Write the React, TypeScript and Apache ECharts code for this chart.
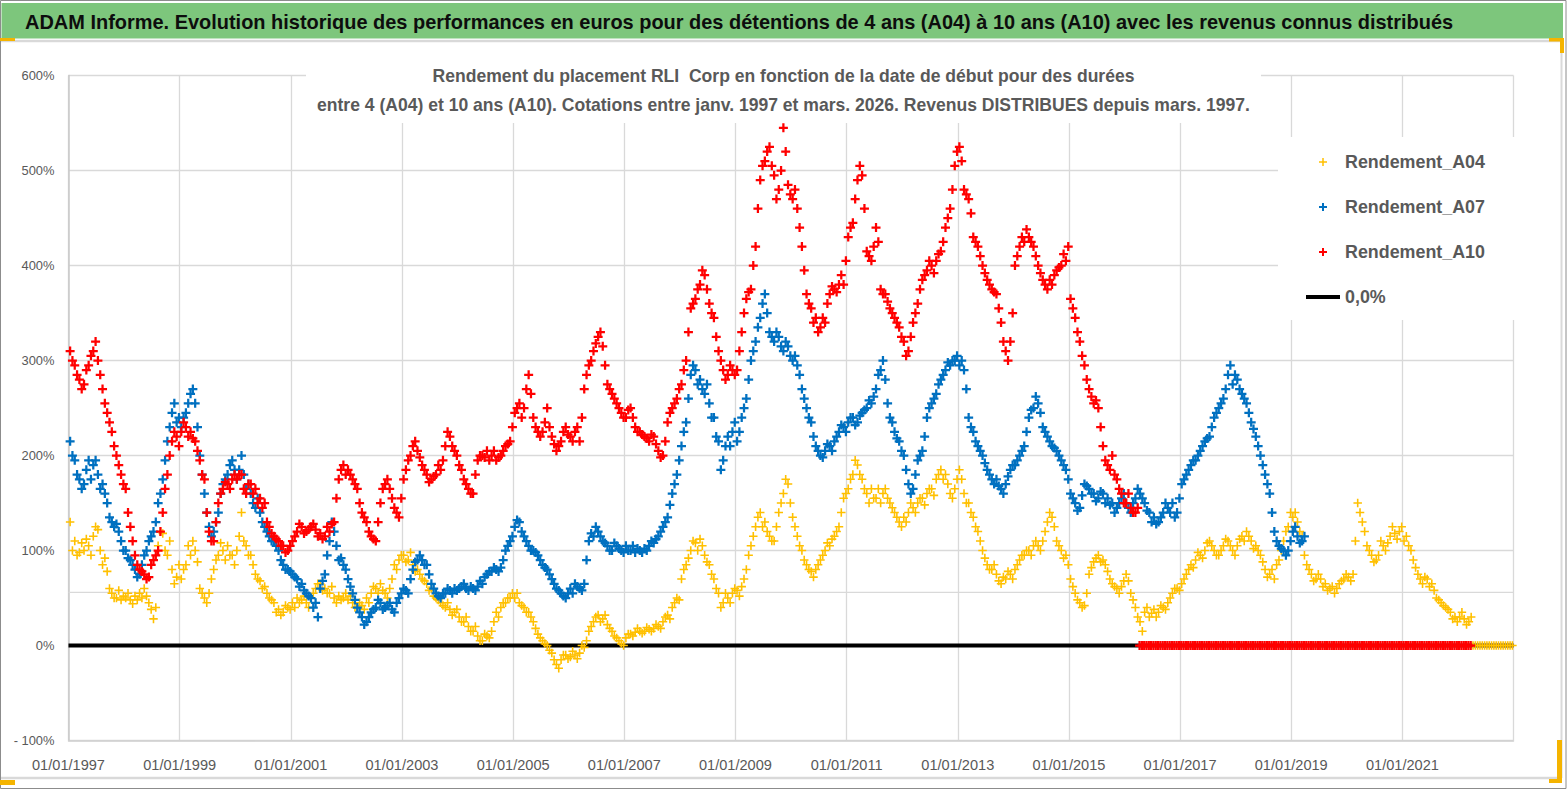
import React, { useEffect, useRef } from "react";
import * as echarts from "echarts";

// ---------- data (monthly readings, first value = Jan 1997) ----------
// *_MID : reading near the middle of each month
// *_EDGE: second reading near the end of each month (other side of the cloud)
const START_YEAR = 1997;
const X_TICK_YEARS = [1997, 1999, 2001, 2003, 2005, 2007, 2009, 2011, 2013, 2015, 2017, 2019, 2021];
const Y_TICKS = [-100, 0, 100, 200, 300, 400, 500, 600];

const A04_MID = [
  130, 110, 98, 100, 105, 115, 122, 85, 78, 55, 50, 48,
  50, 48, 52, 55, 60, 45, 28, 105, 118, 95, 80, 72,
  70, 85, 95, 100, 60, 50, 55, 80, 95, 100, 105, 95,
  100, 140, 105, 95, 75, 68, 62, 50, 45, 38, 35, 40,
  45, 50, 48, 45, 50, 60, 65, 60, 55, 50, 52, 50,
  48, 45, 40, 42, 50, 55, 60, 65, 55, 60, 85, 90,
  95, 90, 85, 80, 70, 65, 60, 50, 45, 40, 38, 35,
  30, 25, 20, 15, 10, 5, 10, 15, 35, 40, 45, 50,
  50, 45, 40, 35, 25, 12, 5, 0, -8, -20, -15, -10,
  -12, -10, -8, -2, 15, 25, 32, 28, 22, 15, 8, 2,
  8, 12, 14, 15, 15, 17, 18, 20, 25, 32, 40, 50,
  70, 85, 100, 108, 112, 95, 85, 70, 55, 45, 50, 55,
  58, 62, 80, 105, 125, 140, 130, 115, 110, 140, 160, 170,
  135, 115, 100, 85, 78, 80, 90, 100, 105, 115, 125, 155,
  165, 180, 190, 175, 160, 165, 155, 150, 165, 150, 140, 130,
  135, 140, 145, 150, 155, 160, 165, 175, 185, 180, 160, 165,
  185, 160, 150, 135, 120, 100, 85, 80, 75, 65, 70, 75,
  80, 90, 95, 100, 105, 105, 110, 130, 135, 110, 100, 95,
  70, 55, 45, 42, 75, 88, 95, 90, 78, 65, 60, 62,
  75, 55, 40, 25, 35, 30, 38, 35, 40, 45, 55, 60,
  65, 75, 85, 90, 95, 100, 110, 100, 95, 105, 110, 100,
  105, 115, 120, 110, 105, 95, 80, 75, 70, 90, 110, 125,
  135, 130, 115, 85, 75, 70, 70, 65, 60, 55, 65, 70,
  72, 75, 150, 130, 105, 95, 90, 110, 100, 115, 118, 120,
  110, 105, 90, 75, 65, 70, 65, 50, 45, 40, 35, 30,
  30, 28, 25,
];
const A04_EDGE = [
  100, 95, 108, 112, 95, 125, 100, 92, 60, 50, 58, 52,
  55, 44, 48, 50, 52, 38, 40, 120, 100, 110, 65, 85,
  80, 105, 110, 88, 55, 45, 70, 90, 108, 90, 95, 85,
  115, 110, 95, 85, 70, 60, 55, 48, 35, 32, 42, 38,
  40, 45, 52, 40, 55, 65, 58, 55, 62, 45, 48, 55,
  52, 40, 45, 38, 45, 62, 55, 58, 50, 70, 80, 95,
  88, 98, 78, 75, 68, 58, 52, 48, 42, 45, 32, 38,
  25, 30, 15, 20, 5, 12, 8, 25, 30, 45, 50, 55,
  55, 42, 35, 30, 18, 8, 2, -5, -15, -24, -10, -14,
  -6, -14, 0, 5, 20, 30, 25, 32, 18, 10, 5, 0,
  12, 10, 18, 13, 19, 15, 22, 18, 30, 28, 45, 48,
  80, 92, 110, 100, 105, 88, 75, 60, 40, 55, 45, 60,
  52, 70, 95, 115, 135, 125, 120, 110, 125, 150, 175, 150,
  125, 105, 90, 80, 72, 85, 95, 108, 112, 120, 140, 160,
  175, 195, 180, 165, 150, 155, 165, 160, 155, 145, 135, 125,
  130, 150, 140, 155, 148, 165, 158, 180, 175, 170, 155, 175,
  175, 150, 140, 125, 110, 92, 80, 85, 68, 72, 78, 70,
  85, 95, 100, 95, 110, 100, 120, 140, 125, 105, 92, 85,
  62, 48, 40, 55, 82, 92, 88, 85, 70, 62, 55, 68,
  68, 48, 30, 15, 40, 34, 30, 42, 38, 50, 60, 58,
  70, 80, 82, 98, 92, 108, 105, 95, 100, 112, 105, 95,
  112, 110, 115, 102, 100, 88, 72, 80, 85, 100, 120, 140,
  140, 120, 95, 80, 68, 75, 62, 58, 62, 60, 68, 75,
  68, 110, 140, 120, 100, 88, 95, 105, 108, 125, 112, 125,
  115, 100, 82, 70, 72, 62, 58, 48, 42, 38, 28, 25,
  35, 22, 30,
];
// Apr 2022 -> Dec 2022 : A04 shown at 0 %
const A04_TAIL = [0, 0, 0, 0, 0, 0, 0, 0, 0];

const A07_MID = [
  215, 195, 175, 170, 195, 190, 180, 170, 150, 130, 128, 110,
  100, 90, 80, 75, 95, 110, 120, 150, 175, 215, 245, 235,
  230, 245, 265, 255, 200, 160, 125, 120, 140, 170, 180, 195,
  175, 200, 165, 160, 145, 140, 125, 115, 110, 100, 85, 80,
  75, 70, 65, 55, 50, 45, 60, 75, 110, 120, 90, 85,
  70, 55, 40, 30, 25, 35, 40, 45, 40, 45, 35, 50,
  60, 55, 80, 90, 90, 85, 65, 55, 50, 55, 58, 60,
  60, 65, 58, 60, 62, 65, 75, 78, 80, 82, 100, 110,
  125, 130, 115, 105, 100, 95, 85, 80, 70, 60, 55, 50,
  60, 65, 60, 65, 110, 115, 120, 110, 105, 100, 105, 100,
  105, 100, 98, 100, 102, 105, 108, 115, 125, 135, 160, 180,
  210, 235, 285, 290, 280, 265, 255, 240, 215, 195, 220, 225,
  215, 240, 260, 300, 320, 345, 370, 330, 320, 325, 310, 315,
  300, 295, 270, 250, 235, 210, 200, 205, 210, 215, 225, 230,
  235, 240, 235, 245, 250, 255, 270, 290, 280, 240, 225, 215,
  200, 170, 165, 195, 205, 240, 255, 265, 280, 290, 295, 300,
  295, 290, 240, 225, 210, 200, 185, 175, 175, 165, 170, 185,
  190, 200, 210, 240, 250, 255, 230, 220, 210, 205, 195, 185,
  160, 150, 145, 170, 165, 160, 155, 160, 155, 150, 145, 155,
  150, 140, 155, 160, 150, 140, 135, 130, 140, 145, 150, 140,
  170, 180, 190, 195, 205, 215, 220, 240, 250, 260, 285, 275,
  280, 265, 255, 235, 220, 200, 180, 160, 120, 105, 100, 100,
  120, 115, 110,
];
const A07_EDGE = [
  200, 180, 165, 185, 175, 195, 165, 160, 135, 125, 120, 100,
  92, 85, 72, 85, 100, 115, 130, 160, 195, 230, 255, 240,
  240, 255, 270, 230, 180, 140, 115, 130, 160, 175, 190, 185,
  185, 180, 170, 150, 155, 130, 120, 110, 105, 90, 80, 78,
  72, 62, 58, 52, 40, 30, 68, 95, 130, 105, 92, 80,
  62, 48, 35, 22, 30, 38, 48, 38, 42, 38, 45, 55,
  58, 70, 88, 95, 85, 75, 60, 52, 55, 60, 55, 58,
  62, 60, 62, 58, 68, 72, 78, 82, 78, 90, 105, 115,
  132, 120, 110, 100, 98, 90, 82, 75, 65, 58, 52, 55,
  55, 62, 58, 90, 118, 125, 115, 108, 100, 108, 102, 98,
  100, 105, 102, 98, 100, 110, 112, 120, 130, 148, 170, 195,
  225, 260, 295, 275, 270, 275, 240, 220, 185, 210, 210, 235,
  225, 250, 280, 310, 335, 360, 350, 325, 330, 315, 320, 305,
  305, 285, 260, 240, 220, 205, 198, 212, 205, 220, 232, 225,
  240, 232, 242, 248, 258, 262, 285, 300, 255, 235, 218, 205,
  185, 160, 180, 200, 220, 250, 260, 275, 285, 298, 300, 305,
  300, 270, 230, 215, 205, 192, 180, 170, 168, 160, 178, 190,
  195, 205, 225, 248, 262, 245, 225, 215, 208, 200, 190, 175,
  155, 142, 158, 168, 160, 152, 162, 150, 148, 140, 150, 160,
  145, 150, 165, 155, 142, 130, 128, 135, 150, 140, 135, 155,
  175, 185, 195, 200, 210, 218, 230, 245, 255, 270, 295, 285,
  270, 260, 245, 228, 210, 190, 170, 140, 110, 102, 95, 110,
  125, 108, 115,
];

const A10_MID = [
  310, 295, 280, 275, 295, 310, 300, 270, 245, 225, 200, 180,
  165, 125, 95, 80, 75, 72, 90, 100, 140, 180, 215, 220,
  225, 230, 225, 215, 195, 175, 120, 110, 150, 165, 170, 175,
  175, 180, 160, 170, 165, 155, 150, 125, 115, 110, 105, 100,
  110, 120, 125, 120, 125, 122, 118, 115, 120, 130, 175, 190,
  185, 175, 165, 140, 130, 115, 110, 150, 170, 165, 145, 135,
  175, 195, 210, 205, 190, 180, 175, 180, 185, 210, 220, 205,
  190, 175, 165, 160, 195, 200, 205, 200, 195, 200, 210, 215,
  245, 255, 250, 285, 240, 225, 225, 250, 220, 205, 215, 230,
  220, 225, 215, 270, 295, 310, 325, 315, 275, 265, 255, 245,
  240, 250, 230, 225, 220, 215, 220, 205, 200, 235, 250, 260,
  275, 300, 355, 365, 380, 390, 360, 345, 310, 290, 285, 290,
  290, 330, 365, 375, 420, 490, 510, 525, 495, 480, 545, 485,
  470, 460, 420, 370, 355, 345, 335, 340, 370, 375, 380, 380,
  430, 445, 490, 495, 415, 405, 440, 375, 370, 355, 345, 335,
  320, 310, 340, 360, 385, 395, 400, 405, 415, 440, 460, 505,
  525, 480, 470, 430, 420, 400, 385, 375, 370, 340, 310, 320,
  400, 420, 425, 430, 420, 400, 385, 375, 380, 395, 400, 405,
  365, 345, 320, 295, 270, 255, 250, 210, 190, 200, 175, 160,
  150, 145, 140,
];
const A10_EDGE = [
  300, 285, 270, 290, 305, 320, 285, 255, 235, 210, 190, 170,
  140, 110, 85, 78, 70, 85, 95, 120, 165, 200, 225, 210,
  235, 220, 218, 205, 180, 140, 110, 130, 160, 172, 165, 180,
  180, 165, 170, 160, 150, 145, 130, 118, 112, 105, 98, 105,
  115, 128, 118, 122, 128, 115, 112, 125, 128, 155, 185, 180,
  180, 170, 150, 135, 120, 112, 130, 165, 175, 155, 140, 155,
  185, 200, 215, 198, 185, 172, 178, 190, 195, 225, 210, 200,
  185, 170, 160, 180, 200, 198, 195, 205, 198, 205, 212, 230,
  250, 240, 270, 265, 230, 220, 235, 230, 212, 210, 225, 222,
  215, 230, 240, 285, 300, 318, 330, 295, 270, 260, 250, 240,
  248, 240, 225, 222, 218, 222, 212, 198, 215, 245, 255, 270,
  290, 330, 360, 375, 395, 375, 350, 325, 300, 280, 295, 285,
  310, 350, 372, 400, 460, 505, 520, 505, 470, 500, 520, 475,
  480, 440, 395, 360, 340, 330, 345, 360, 378, 372, 390, 405,
  440, 470, 505, 460, 410, 420, 425, 370, 362, 350, 340, 325,
  305, 325, 350, 375, 390, 405, 392, 412, 425, 450, 480, 520,
  510, 475, 455, 425, 410, 392, 380, 372, 355, 320, 300, 350,
  410, 430, 438, 425, 410, 392, 380, 385, 390, 398, 412, 420,
  355, 330, 305, 280, 262, 258, 230, 195, 185, 180, 165, 150,
  160, 140, 145,
];
// Apr 2016 -> Mar 2022 : A10 shown at 0 %
const A10_TAIL = [
  0, 0, 0, 0, 0, 0, 0, 0, 0, 0, 0, 0,
  0, 0, 0, 0, 0, 0, 0, 0, 0, 0, 0, 0,
  0, 0, 0, 0, 0, 0, 0, 0, 0, 0, 0, 0,
  0, 0, 0, 0, 0, 0, 0, 0, 0, 0, 0, 0,
  0, 0, 0, 0, 0, 0, 0, 0, 0, 0, 0, 0,
  0, 0, 0, 0, 0, 0, 0, 0, 0, 0, 0, 0,
];

const ZERO_LINE = [
  [0, 0],
  [26, 0],
];
const GUIDE_LEVEL = 56;

const TITLE =
  "ADAM Informe. Evolution historique des performances en euros pour des détentions de 4 ans (A04) à 10 ans (A10) avec les revenus connus distribués";
const SUB1 = "Rendement du placement RLI  Corp en fonction de la date de début pour des durées";
const SUB2 =
  "entre 4 (A04) et 10 ans (A10). Cotations entre janv. 1997 et mars. 2026. Revenus DISTRIBUES depuis mars. 1997.";

// ---------- helpers ----------
const NARROW = '"Liberation Sans Narrow", "Liberation Sans", Arial, sans-serif';
const SANS = '"Liberation Sans", Arial, sans-serif';

function fitSize(text: string, weight: string, family: string, target: number, base = 20) {
  const ctx = document.createElement("canvas").getContext("2d");
  if (!ctx) return base;
  ctx.font = `${weight} ${base}px ${family}`;
  const w = ctx.measureText(text).width;
  return w > 0 ? (base * target) / w : base;
}

// month index -> years since START_YEAR ; shift = position inside the month
function toPoints(values: number[], offset: number, shift: number) {
  return values.map((v, i) => [(offset + i + shift) / 12, v]);
}

const PLUS_THICK = "path://M3,0H5V3H8V5H5V8H3V5H0V3H3Z";
const PLUS_THIN = "path://M3.25,0H4.75V3.25H8V4.75H4.75V8H3.25V4.75H0V3.25H3.25Z";
const LINE_ICON = "path://M0,0H34V4H0Z";

export default function App() {
  const ref = useRef<HTMLDivElement>(null);

  useEffect(() => {
    document.body.style.margin = "0";
    const el = ref.current;
    if (!el) return;
    const chart = echarts.init(el, undefined, { renderer: "svg" });

    const titleSize = fitSize(TITLE, "bold", SANS, 1429);
    const subSize = fitSize(SUB2, "bold", NARROW, 934);
    const legendSize = fitSize("Rendement_A04", "bold", NARROW, 140);
    const xLabSize = fitSize("01/01/1997", "normal", SANS, 73);
    const yLabSize = fitSize("500%", "normal", SANS, 33);

    const a04Data = toPoints(A04_MID, 0, 0.35)
      .concat(toPoints(A04_EDGE, 0, 0.85))
      .concat(toPoints(A04_TAIL, A04_MID.length, 0.25))
      .concat(toPoints(A04_TAIL, A04_MID.length, 0.75));
    const a07Data = toPoints(A07_MID, 0, 0.35).concat(toPoints(A07_EDGE, 0, 0.85));
    const a10Data = toPoints(A10_MID, 0, 0.35)
      .concat(toPoints(A10_EDGE, 0, 0.85))
      .concat(toPoints(A10_TAIL, A10_MID.length, 0.25))
      .concat(toPoints(A10_TAIL, A10_MID.length, 0.75));

    const orange = "#F5B400";

    const option: any = {
      animation: false,
      backgroundColor: "#ffffff",
      textStyle: { fontFamily: SANS },
      title: {
        text: SUB1 + "\n" + SUB2,
        left: "center",
        top: 58,
        padding: [3, 11, 4, 11],
        backgroundColor: "#ffffff",
        textStyle: {
          fontFamily: NARROW,
          fontWeight: "bold",
          fontSize: subSize,
          lineHeight: 29,
          color: "#595959",
        },
      },
      legend: {
        orient: "vertical",
        left: 1278,
        top: 137,
        padding: [14, 30, 12, 28],
        backgroundColor: "#ffffff",
        itemWidth: 34,
        itemHeight: 8,
        itemGap: 23,
        selectedMode: false,
        textStyle: {
          fontFamily: NARROW,
          fontWeight: "bold",
          fontSize: legendSize,
          lineHeight: 22,
          color: "#595959",
        },
        data: [
          { name: "Rendement_A04", icon: PLUS_THIN, itemStyle: { color: "#FFC000" } },
          { name: "Rendement_A07", icon: PLUS_THICK, itemStyle: { color: "#0070C0" } },
          { name: "Rendement_A10", icon: PLUS_THICK, itemStyle: { color: "#FF0000" } },
          { name: "0,0%", icon: LINE_ICON, itemStyle: { color: "#000000" } },
        ],
      },
      grid: { left: 68.5, right: 53.5, top: 75.5, bottom: 49.5 },
      xAxis: {
        type: "value",
        min: 0,
        max: 25.999,
        interval: 2,
        axisLine: { show: true, onZero: false, lineStyle: { color: "#D0D0D0", width: 1.5 } },
        axisTick: { show: false },
        splitLine: { show: true, lineStyle: { color: "#D9D9D9", width: 1.3 } },
        axisLabel: {
          margin: 17,
          color: "#595959",
          fontFamily: SANS,
          fontSize: xLabSize,
          formatter: (v: number) => {
            const y = Math.round(START_YEAR + v);
            return X_TICK_YEARS.indexOf(y) >= 0 ? "01/01/" + y : "";
          },
        },
      },
      yAxis: {
        type: "value",
        min: Y_TICKS[0],
        max: Y_TICKS[Y_TICKS.length - 1],
        interval: 100,
        axisLine: { show: true, lineStyle: { color: "#C8C8C8", width: 1.5 } },
        axisTick: { show: false },
        splitLine: { show: true, lineStyle: { color: "#D9D9D9", width: 1.3 } },
        axisLabel: {
          margin: 14,
          color: "#595959",
          fontFamily: SANS,
          fontSize: yLabSize,
          formatter: (v: number) => (v < 0 ? "- " + -v + "%" : v + "%"),
        },
      },
      series: [
        {
          name: "guide",
          type: "line",
          data: [
            [0, GUIDE_LEVEL],
            [26, GUIDE_LEVEL],
          ],
          symbol: "none",
          silent: true,
          z: 1,
          lineStyle: { color: "#D9D9D9", width: 1.3 },
        },
        {
          name: "0,0%",
          type: "line",
          data: ZERO_LINE,
          symbol: "none",
          silent: true,
          z: 2,
          lineStyle: { color: "#000000", width: 4 },
          itemStyle: { color: "#000000" },
        },
        {
          name: "Rendement_A04",
          type: "scatter",
          data: a04Data,
          symbol: PLUS_THIN,
          symbolSize: 8.5,
          silent: true,
          z: 3,
          itemStyle: { color: "#FFC000", opacity: 1 },
        },
        {
          name: "Rendement_A07",
          type: "scatter",
          data: a07Data,
          symbol: PLUS_THICK,
          symbolSize: 9,
          silent: true,
          z: 4,
          itemStyle: { color: "#0070C0", opacity: 1 },
        },
        {
          name: "Rendement_A10",
          type: "scatter",
          data: a10Data,
          symbol: PLUS_THICK,
          symbolSize: 9,
          silent: true,
          z: 5,
          itemStyle: { color: "#FF0000", opacity: 1 },
        },
      ],
      graphic: [
        {
          type: "rect",
          z: 100,
          silent: true,
          shape: { x: 0.5, y: 0.5, width: 1565.5, height: 788 },
          style: { fill: "none", stroke: "#8C8C8C", lineWidth: 1 },
        },
        {
          type: "rect",
          z: 99,
          silent: true,
          shape: { x: 1.5, y: 3, width: 1561.5, height: 35.5 },
          style: { fill: "#7DC67C" },
        },
        {
          type: "line",
          z: 99,
          silent: true,
          shape: { x1: 0, y1: 41, x2: 1561, y2: 41 },
          style: { stroke: "#D9D9D9", lineWidth: 2.5 },
        },
        {
          type: "line",
          z: 99,
          silent: true,
          shape: { x1: 0, y1: 778, x2: 1561, y2: 778 },
          style: { stroke: "#D9D9D9", lineWidth: 2.5 },
        },
        {
          type: "line",
          z: 99,
          silent: true,
          shape: { x1: 1561.5, y1: 41, x2: 1561.5, y2: 778 },
          style: { stroke: "#D9D9D9", lineWidth: 2 },
        },
        {
          type: "text",
          z: 101,
          silent: true,
          x: 25,
          y: 22,
          style: {
            text: TITLE,
            fontFamily: SANS,
            fontWeight: "bold",
            fontSize: titleSize,
            fill: "#0D0D0D",
            verticalAlign: "middle",
            align: "left",
          },
        },
        // selection handles
        { type: "rect", z: 102, silent: true, shape: { x: 0, y: 38, width: 15, height: 3 }, style: { fill: orange } },
        { type: "rect", z: 102, silent: true, shape: { x: 0, y: 780, width: 15, height: 5 }, style: { fill: orange } },
        { type: "rect", z: 102, silent: true, shape: { x: 1549, y: 38, width: 15, height: 3.5 }, style: { fill: orange } },
        { type: "rect", z: 102, silent: true, shape: { x: 1560, y: 38, width: 4, height: 15 }, style: { fill: orange } },
        { type: "rect", z: 102, silent: true, shape: { x: 1557, y: 740, width: 5, height: 43 }, style: { fill: orange } },
        { type: "rect", z: 102, silent: true, shape: { x: 1549, y: 779, width: 13, height: 4 }, style: { fill: orange } },
      ],
    };

    chart.setOption(option);
    return () => chart.dispose();
  }, []);

  return <div ref={ref} style={{ width: 1567, height: 790 }} />;
}
